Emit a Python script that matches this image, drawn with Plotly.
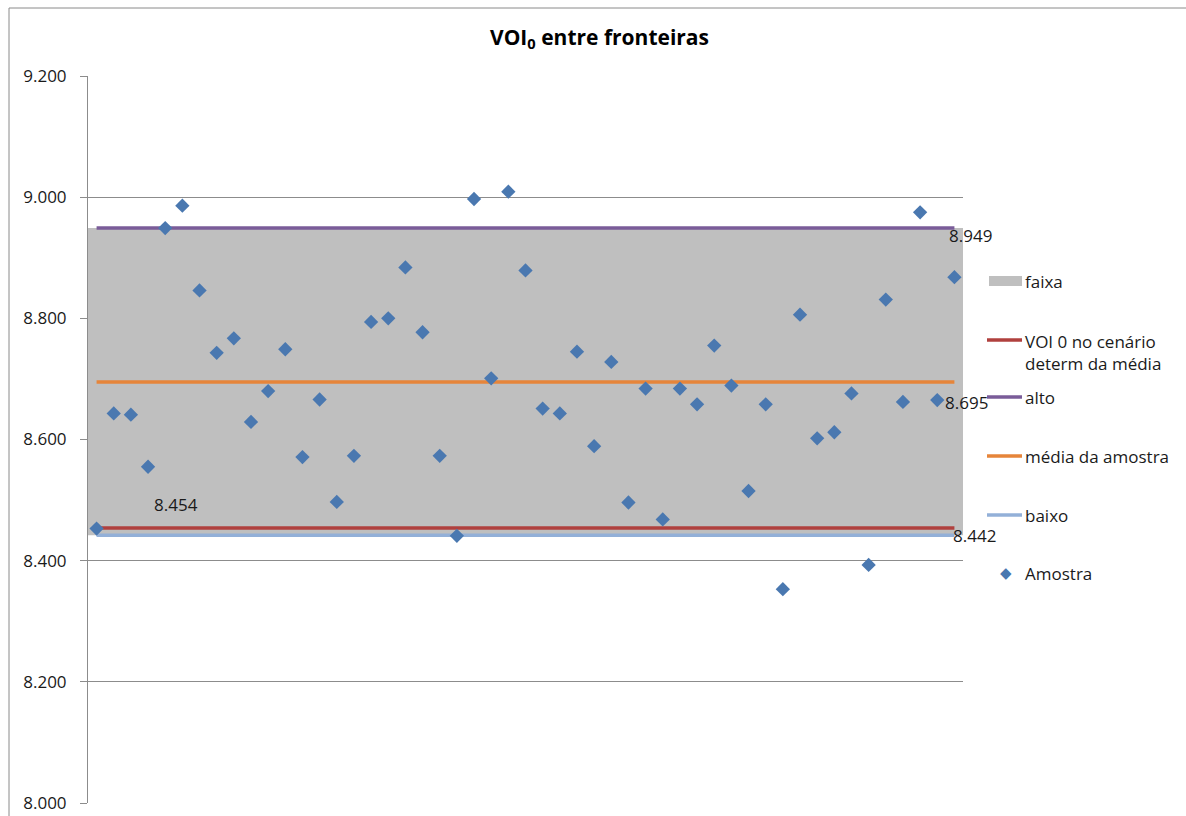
import plotly.graph_objects as go

# Sample values of VOI0 (one per scenario)
amostra = [8.453, 8.643, 8.641, 8.555, 8.949, 8.986, 8.846, 8.743, 8.767, 8.629,
           8.680, 8.749, 8.571, 8.666, 8.497, 8.573, 8.794, 8.800, 8.884, 8.777,
           8.573, 8.441, 8.997, 8.701, 9.009, 8.879, 8.651, 8.643, 8.745, 8.589,
           8.728, 8.496, 8.684, 8.468, 8.684, 8.658, 8.755, 8.689, 8.515, 8.658,
           8.353, 8.806, 8.602, 8.612, 8.676, 8.393, 8.831, 8.662, 8.975, 8.665,
           8.868]
cenarios = list(range(1, len(amostra) + 1))

# Reference levels
alto = 8.949
baixo = 8.442
media_amostra = 8.695
voi0_determ = 8.454

y_ticks = [8.0, 8.2, 8.4, 8.6, 8.8, 9.0, 9.2]

W, H = 1186, 816
L, R, T, B = 88, 963, 76, 803  # plot area in pixels

C_FAIXA = "#bfbfbf"
C_RED = "#b0403e"
C_PURPLE = "#7a5c99"
C_ORANGE = "#e6853a"
C_BLUE_LINE = "#93b0d8"
C_POINT = "#4a78b0"
FONT = "Open Sans"


def px(x):
    return (x - L) / (R - L)


def py(y):
    return (B - y) / (B - T)


fig = go.Figure()

# shaded band between the low and high limits
x0, x1 = cenarios[0] - 0.5, cenarios[-1] + 0.5
fig.add_trace(go.Scatter(
    x=[x0, x1, x1, x0, x0], y=[baixo, baixo, alto, alto, baixo],
    fill="toself", fillcolor=C_FAIXA, line=dict(width=0), mode="lines",
    hoverinfo="skip", showlegend=False))

for val, col in [(baixo, C_BLUE_LINE), (voi0_determ, C_RED), (alto, C_PURPLE),
                 (media_amostra, C_ORANGE)]:
    fig.add_trace(go.Scatter(x=cenarios, y=[val] * len(cenarios), mode="lines",
                             line=dict(color=col, width=3.5), showlegend=False))

fig.add_trace(go.Scatter(x=cenarios, y=amostra, mode="markers",
                         marker=dict(symbol="diamond", size=11, color=C_POINT),
                         showlegend=False))

# value labels
lab_font = dict(family=FONT, size=17, color="#1a1a1a")
ann = [
    dict(x=cenarios[-1], y=alto, text=f"{alto:.3f}", xanchor="left", yanchor="middle",
         xshift=-7, yshift=-7),
    dict(x=cenarios[-1], y=media_amostra, text=f"{media_amostra:.3f}", xanchor="left",
         yanchor="middle", xshift=-11, yshift=-21),
    dict(x=cenarios[-1], y=baixo, text=f"{baixo:.3f}", xanchor="left", yanchor="middle",
         xshift=-3, yshift=0),
    dict(x=cenarios[3], y=voi0_determ, text=f"{voi0_determ:.3f}", xanchor="left",
         yanchor="middle", xshift=4, yshift=23),
]
for a in ann:
    a.update(xref="x", yref="y", showarrow=False, font=lab_font)

# legend, drawn at fixed places to the right of the plot
leg_font = dict(family=FONT, size=17, color="#1a1a1a")
legend_items = [
    ("faixa", 281, "rect", C_FAIXA),
    ("VOI 0 no cenário<br>determ da média", 352, "line", C_RED),
    ("alto", 397, "line", C_PURPLE),
    ("média da amostra", 456, "line", C_ORANGE),
    ("baixo", 515, "line", C_BLUE_LINE),
    ("Amostra", 573, "marker", C_POINT),
]
shapes = []
for text, yc, kind, col in legend_items:
    if kind == "rect":
        shapes.append(dict(type="rect", xref="paper", yref="paper",
                           x0=px(989), x1=px(1022), y0=py(286), y1=py(276),
                           fillcolor=col, line=dict(width=0)))
    elif kind == "line":
        ly = 340 if "<br>" in text else yc
        shapes.append(dict(type="line", xref="paper", yref="paper",
                           x0=px(987), x1=px(1022), y0=py(ly), y1=py(ly),
                           line=dict(color=col, width=3.5)))
    else:
        ann.append(dict(xref="paper", yref="paper", x=px(1006), y=py(yc), text="◆",
                        showarrow=False, xanchor="center", yanchor="middle",
                        font=dict(family="DejaVu Sans", size=15, color=col)))
    ann.append(dict(xref="paper", yref="paper", x=px(1023), y=py(yc), text=text,
                    showarrow=False, xanchor="left", yanchor="middle", align="left",
                    font=leg_font))

# outer chart frame
shapes.append(dict(type="rect", xref="paper", yref="paper",
                   x0=px(9), x1=px(1200), y0=py(830), y1=py(8),
                   line=dict(color="#8a8a8a", width=1), fillcolor="rgba(0,0,0,0)",
                   layer="below"))

# title
ann.append(dict(xref="paper", yref="paper", x=px(599), y=py(38),
                text="<b>VOI<sub>0</sub> entre fronteiras</b>", showarrow=False,
                xanchor="center", yanchor="middle",
                font=dict(family=FONT, size=21, color="#000000")))

fig.update_layout(
    width=W, height=H,
    margin=dict(l=L, r=W - R, t=T, b=H - B, autoexpand=False),
    paper_bgcolor="white", plot_bgcolor="white",
    showlegend=False,
    annotations=ann, shapes=shapes,
    xaxis=dict(range=[x0, x1], showticklabels=False, showgrid=False, zeroline=False,
               showline=False, ticks="", automargin=False),
    yaxis=dict(range=[8.0, 9.2], tickvals=y_ticks, tickformat=".3f",
               showgrid=True, gridcolor="#8c8c8c", gridwidth=1, zeroline=False,
               showline=True, linecolor="#8c8c8c", linewidth=1,
               ticks="outside", ticklen=7, tickcolor="#8c8c8c",
               ticklabelstandoff=10, automargin=False,
               tickfont=dict(family=FONT, size=17, color="#1a1a1a")),
)

fig.write_html("out.html")
